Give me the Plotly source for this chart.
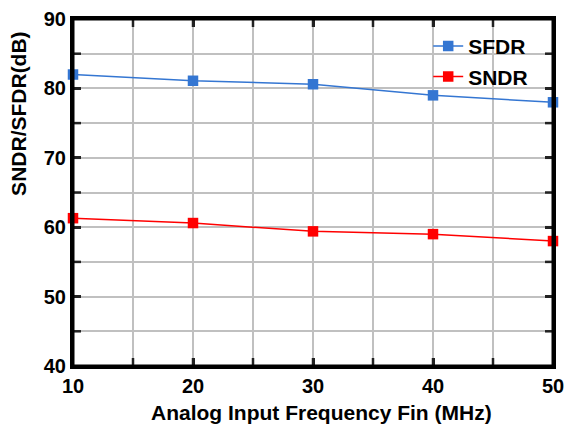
import plotly.graph_objects as go

freq = [10, 20, 30, 40, 50]
sfdr = [82.0, 81.1, 80.6, 79.0, 78.0]
sndr = [61.3, 60.6, 59.4, 59.0, 58.0]

x_ticks = [10, 20, 30, 40, 50]
y_ticks = [40, 50, 60, 70, 80, 90]
x_tick_marks = [15, 20, 25, 30, 35, 40, 45]
y_tick_marks = [45, 50, 55, 60, 65, 70, 75, 80, 85]

x_title = "Analog Input Frequency Fin (MHz)"
y_title = "SNDR/SFDR(dB)"

FONT = "Liberation Sans"

fig = go.Figure()
fig.add_trace(go.Scatter(x=freq, y=sfdr, name="SFDR", mode="lines+markers",
                         line=dict(color="#3476d2", width=1.5),
                         marker=dict(symbol="square", size=10.5, color="#3476d2"),
                         cliponaxis=False))
fig.add_trace(go.Scatter(x=freq, y=sndr, name="SNDR", mode="lines+markers",
                         line=dict(color="#ff0000", width=1.5),
                         marker=dict(symbol="square", size=10.5, color="#ff0000"),
                         cliponaxis=False))

axis_common = dict(
    showline=True, linecolor="black", linewidth=3, mirror="allticks",
    ticks="inside", ticklen=8, tickwidth=2.5, tickcolor="#222",
    showgrid=True, gridcolor="#c0c0c0", gridwidth=1.5,
    tickfont=dict(family=FONT, size=20, color="black", weight="bold"),
    zeroline=False, automargin=False, layer="above traces",
)
minor = dict(dtick=5, tick0=0, showgrid=True, gridcolor="#c0c0c0", gridwidth=1.5)

fig.update_xaxes(range=[10, 50], tickvals=x_ticks, minor=minor, **axis_common)
fig.update_yaxes(range=[40, 90], tickvals=y_ticks, minor=minor, **axis_common)

TICK = dict(color="#222", width=2.5)
shapes = []
for xv in x_tick_marks:
    shapes.append(dict(type="line", xref="x", yref="y domain", ysizemode="pixel",
                       yanchor=0, x0=xv, x1=xv, y0=0, y1=8, line=TICK, layer="above"))
    shapes.append(dict(type="line", xref="x", yref="y domain", ysizemode="pixel",
                       yanchor=1, x0=xv, x1=xv, y0=0, y1=-8, line=TICK, layer="above"))
for yv in y_tick_marks:
    shapes.append(dict(type="line", xref="x domain", yref="y", xsizemode="pixel",
                       xanchor=0, x0=0, x1=8, y0=yv, y1=yv, line=TICK, layer="above"))
    shapes.append(dict(type="line", xref="x domain", yref="y", xsizemode="pixel",
                       xanchor=1, x0=0, x1=-8, y0=yv, y1=yv, line=TICK, layer="above"))
shapes.append(dict(type="rect", xref="x domain", yref="y domain", x0=0, x1=1, y0=0, y1=1,
                   line=dict(color="black", width=3), fillcolor="rgba(0,0,0,0)", layer="above"))

annotations = [
    dict(text=x_title, xref="paper", yref="paper", x=0.517, y=-0.1326,
         xanchor="center", yanchor="middle", showarrow=False,
         font=dict(family=FONT, size=21, color="black", weight="bold")),
    dict(text=y_title, xref="paper", yref="paper", x=-0.115, y=0.726, textangle=-90,
         xanchor="center", yanchor="middle", showarrow=False,
         font=dict(family=FONT, size=21, color="black", weight="bold")),
]

fig.update_layout(
    width=565, height=429,
    margin=dict(l=73, r=12, t=19, b=63),
    plot_bgcolor="white", paper_bgcolor="white",
    showlegend=True,
    shapes=shapes,
    annotations=annotations,
    legend=dict(x=0.74, y=0.98, xanchor="left", yanchor="top",
                bgcolor="rgba(255,255,255,0)",
                font=dict(family=FONT, size=21, color="black", weight="bold"),
                tracegroupgap=0, itemwidth=30),
)

fig.write_html("out.html", config={"displayModeBar": False},
               post_script="document.body.style.margin='0';document.body.style.overflow='hidden';")
